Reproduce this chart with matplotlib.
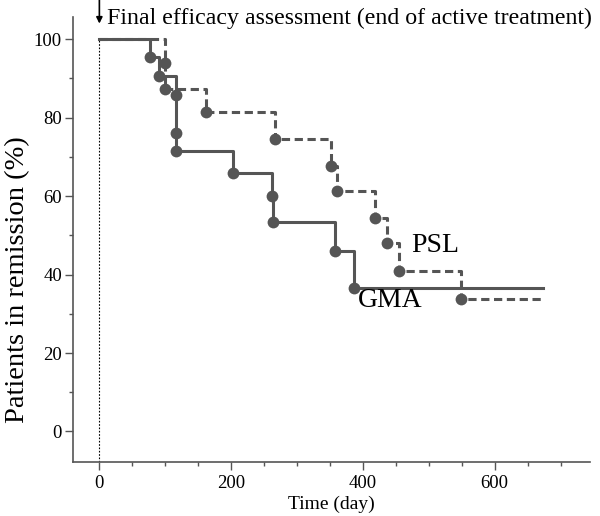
import numpy as np
import matplotlib
matplotlib.use("Agg")
import matplotlib.pyplot as plt
from matplotlib.ticker import MultipleLocator

plt.rcParams['font.family'] = ['Liberation Serif', 'DejaVu Serif']

# Kaplan-Meier steps (day, % in remission)
gma_days = [0, 77, 90, 116, 117, 117, 203, 262, 264, 357, 387, 674]
gma_pct = [100, 95.4, 90.6, 85.8, 76.2, 71.4, 65.8, 60.0, 53.4, 45.9, 36.7, 36.7]

psl_days = [0, 99, 100, 162, 266, 351, 360, 418, 436, 455, 549, 670]
psl_pct = [100, 93.9, 87.3, 81.5, 74.6, 67.6, 61.3, 54.4, 48.1, 41.0, 33.9, 33.9]

x_ticks = [0, 200, 400, 600]
y_ticks = [0, 20, 40, 60, 80, 100]

col = '#555555'

fig = plt.figure(figsize=(6, 5.16), dpi=100)
ax = fig.add_axes([0.1217, 0.1045, 0.862, 0.862])
ax.set_xlim(-40, 745)
ax.set_ylim(-7.8, 105.6)

# curves
ax.step(gma_days, gma_pct, where='post', color=col, lw=2.2)
ax.step(psl_days, psl_pct, where='post', color=col, lw=2.2, linestyle=(0, (2.7, 1.5)))
ax.plot(gma_days[1:-1], gma_pct[1:-1], 'o', color=col, ms=8.5, mec='none')
ax.plot(psl_days[1:-1], psl_pct[1:-1], 'o', color=col, ms=8.5, mec='none')

ax.text(510, 47.3, 'PSL', fontsize=20, ha='center', va='center')
ax.text(442, 33.5, 'GMA', fontsize=20, ha='center', va='center')

# end of active treatment marker
ax.plot([0, 0], [-7.8, 100], color='black', lw=0.8, linestyle=(0, (1.5, 1.5)), zorder=0)
ax.annotate('', xy=(0, 104.0), xytext=(0, 111.5), annotation_clip=False,
            arrowprops=dict(arrowstyle='-|>', color='black', lw=1.2,
                            mutation_scale=9, shrinkA=0, shrinkB=0))
ax.text(11, 104.0, 'Final efficacy assessment (end of active treatment)', fontsize=17.2,
        ha='left', va='baseline', clip_on=False)

ax.set_xticks(x_ticks)
ax.set_yticks(y_ticks)
ax.xaxis.set_minor_locator(MultipleLocator(50))
ax.yaxis.set_minor_locator(MultipleLocator(10))
ax.tick_params(which='major', length=6, width=1, color=col, labelsize=13.5, pad=2)
ax.tick_params(which='minor', length=3, width=1, color=col)
ax.tick_params(axis='x', pad=3)

for s in ['top', 'right']:
    ax.spines[s].set_visible(False)
for s in ['left', 'bottom']:
    ax.spines[s].set_color(col)
    ax.spines[s].set_linewidth(1.2)

ax.set_xlabel('Time (day)', fontsize=14, labelpad=3)
ax.set_ylabel('Patients in remission (%)', fontsize=20.5)
ax.yaxis.set_label_coords(-0.082, 0.41)

fig.savefig('out.png', dpi=100)
